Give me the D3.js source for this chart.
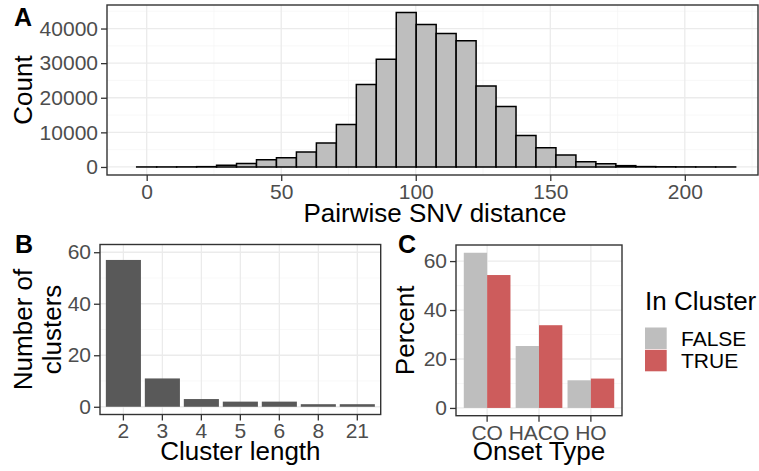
<!DOCTYPE html>
<html>
<head>
<meta charset="utf-8">
<script src="https://cdn.jsdelivr.net/npm/d3@7"></script>
<style>
  body { margin: 0; background: #fff; }
  svg { font-family: "Liberation Sans", Arial, sans-serif; }
  .ax-title { fill: #000; font-size: 26px; }
  .tag { fill: #000; font-size: 25px; font-weight: bold; }
</style>
</head>
<body>
<script>
// ---- data ----
// panel A: histogram, 30 bins centred on multiples of binWidth
var binWidth = 7.42;
var histCounts = [10, 15, 30, 90, 480, 980, 2100, 2700, 4300, 6900,
  12250, 23800, 31100, 44600, 41200, 38550, 36500, 23400, 17450, 9100,
  5550, 3450, 1520, 950, 380, 110, 50, 25, 12, 5];
var histTicks = [0, 50, 100, 150, 200];
var countTicks = [0, 10000, 20000, 30000, 40000];

// panel B
var clusterLength = ['2', '3', '4', '5', '6', '8', '21'];
var numClusters = [57, 11, 3, 2, 2, 1, 1];
var clusterTicks = [0, 20, 40, 60];

// panel C
var onsetType = ['CO', 'HACO', 'HO'];
var inCluster = ['FALSE', 'TRUE'];
var pctFalse = [63.4, 25.3, 11.3];
var pctTrue = [54.3, 33.8, 12.0];
var pctTicks = [0, 20, 40, 60];

var W = 759, H = 471;
var svg = d3.select('body').append('svg').attr('width', W).attr('height', H);
svg.append('rect').attr('width', W).attr('height', H).attr('fill', '#fff');

var gridMajor = '#ebebeb', gridMinor = '#f5f5f5', border = '#333333';

function panelGrid(x0, x1, y0, y1, vx, vxMinor, hy, hyMinor) {
  var g = svg.append('g');
  hyMinor.forEach(function(y) {
    g.append('line').attr('x1', x0).attr('x2', x1).attr('y1', y).attr('y2', y)
      .attr('stroke', gridMinor).attr('stroke-width', 0.7);
  });
  vxMinor.forEach(function(x) {
    g.append('line').attr('x1', x).attr('x2', x).attr('y1', y0).attr('y2', y1)
      .attr('stroke', gridMinor).attr('stroke-width', 0.7);
  });
  hy.forEach(function(y) {
    g.append('line').attr('x1', x0).attr('x2', x1).attr('y1', y).attr('y2', y)
      .attr('stroke', gridMajor).attr('stroke-width', 1.3);
  });
  vx.forEach(function(x) {
    g.append('line').attr('x1', x).attr('x2', x).attr('y1', y0).attr('y2', y1)
      .attr('stroke', gridMajor).attr('stroke-width', 1.3);
  });
}

function panelBorder(x0, x1, y0, y1) {
  svg.append('rect').attr('x', x0).attr('y', y0)
    .attr('width', x1 - x0).attr('height', y1 - y0)
    .attr('fill', 'none').attr('stroke', border).attr('stroke-width', 1.4);
}

function styleAxis(g) {
  g.select('.domain').remove();
  g.attr('font-family', null).attr('font-size', null);
  g.selectAll('.tick line').attr('stroke', border).attr('stroke-width', 1.3);
  g.selectAll('.tick text')
    .style('font-size', '21px')
    .style('font-family', '"Liberation Sans", Arial, sans-serif')
    .style('fill', '#4d4d4d');
}

// ================= Panel A =================
var A = { x0: 107, x1: 758, y0: 5, y1: 175 };
var xA = d3.scaleLinear().domain([-14.75, 227.2]).range([A.x0, A.x1]);
var yA = d3.scaleLinear().domain([-2320, 46800]).range([A.y1, A.y0]);

panelGrid(A.x0, A.x1, A.y0, A.y1,
  histTicks.map(xA), [25, 75, 125, 175, 225].map(xA),
  countTicks.map(yA), [5000, 15000, 25000, 35000, 45000].map(yA));

svg.append('g').selectAll('path').data(histCounts).enter().append('path')
  .attr('d', function(d, i) {
    var l = xA(i * binWidth - binWidth / 2), r = xA(i * binWidth + binWidth / 2);
    return 'M' + l + ',' + yA(0) + 'V' + yA(d) + 'H' + r + 'V' + yA(0) + 'Z';
  })
  .attr('fill', '#bebebe').attr('stroke', '#000').attr('stroke-width', 1.5);

panelBorder(A.x0, A.x1, A.y0, A.y1);

svg.append('g').attr('transform', 'translate(' + A.x0 + ',0)')
  .call(d3.axisLeft(yA).tickValues(countTicks).tickSize(6).tickPadding(3).tickFormat(d3.format('d')))
  .call(styleAxis);
svg.append('g').attr('transform', 'translate(0,' + A.y1 + ')')
  .call(d3.axisBottom(xA).tickValues(histTicks).tickSize(6).tickPadding(3))
  .call(styleAxis);

svg.append('text').attr('class', 'ax-title').attr('text-anchor', 'middle')
  .attr('x', 435).attr('y', 222).text('Pairwise SNV distance');
svg.append('text').attr('class', 'ax-title').attr('text-anchor', 'middle')
  .attr('transform', 'translate(32,' + (A.y0 + A.y1) / 2 + ')rotate(-90)').text('Count');
svg.append('text').attr('class', 'tag').attr('x', 14).attr('y', 26).text('A');

// ================= Panel B =================
var B = { x0: 100, x1: 380.7, y0: 244.5, y1: 414.5 };
var xB = d3.scaleBand().domain(clusterLength).range([B.x0, B.x1])
  .paddingInner(0.1).paddingOuter(0.15);
var yB = d3.scaleLinear().domain([-3, 63]).range([B.y1, B.y0]);

panelGrid(B.x0, B.x1, B.y0, B.y1,
  clusterLength.map(function(c) { return xB(c) + xB.bandwidth() / 2; }), [],
  clusterTicks.map(yB), [10, 30, 50].map(yB));

svg.append('g').selectAll('rect').data(numClusters).enter().append('rect')
  .attr('x', function(d, i) { return xB(clusterLength[i]); })
  .attr('width', xB.bandwidth())
  .attr('y', function(d) { return yB(d); })
  .attr('height', function(d) { return yB(0) - yB(d); })
  .attr('fill', '#595959');

panelBorder(B.x0, B.x1, B.y0, B.y1);

svg.append('g').attr('transform', 'translate(' + B.x0 + ',0)')
  .call(d3.axisLeft(yB).tickValues(clusterTicks).tickSize(6).tickPadding(3))
  .call(styleAxis);
svg.append('g').attr('transform', 'translate(0,' + B.y1 + ')')
  .call(d3.axisBottom(xB).tickSize(6).tickPadding(3))
  .call(styleAxis);

svg.append('text').attr('class', 'ax-title').attr('text-anchor', 'middle')
  .attr('x', (B.x0 + B.x1) / 2).attr('y', 460).text('Cluster length');
var tB = svg.append('text').attr('class', 'ax-title').attr('text-anchor', 'middle')
  .attr('transform', 'translate(0,' + (B.y0 + B.y1) / 2 + ')rotate(-90)');
tB.append('tspan').attr('x', 0).attr('y', 32).text('Number of');
tB.append('tspan').attr('x', 0).attr('y', 61).text('clusters');
svg.append('text').attr('class', 'tag').attr('x', 15).attr('y', 253).text('B');

// ================= Panel C =================
var C = { x0: 456, x1: 622, y0: 245, y1: 415.7 };
var xC = d3.scaleBand().domain(onsetType).range([C.x0, C.x1])
  .paddingInner(0.1).paddingOuter(0.15);
var xC2 = d3.scaleBand().domain(inCluster).range([0, xC.bandwidth()]);
var yC = d3.scaleLinear().domain([-3.17, 66.57]).range([C.y1, C.y0]);
var fillC = d3.scaleOrdinal().domain(inCluster).range(['#bebebe', '#cd5c5c']);

panelGrid(C.x0, C.x1, C.y0, C.y1,
  onsetType.map(function(c) { return xC(c) + xC.bandwidth() / 2; }), [],
  pctTicks.map(yC), [10, 30, 50].map(yC));

var rowsC = [];
onsetType.forEach(function(t, i) {
  rowsC.push({ type: t, grp: 'FALSE', v: pctFalse[i] });
  rowsC.push({ type: t, grp: 'TRUE', v: pctTrue[i] });
});
svg.append('g').selectAll('rect').data(rowsC).enter().append('rect')
  .attr('x', function(d) { return xC(d.type) + xC2(d.grp); })
  .attr('width', xC2.bandwidth())
  .attr('y', function(d) { return yC(d.v); })
  .attr('height', function(d) { return yC(0) - yC(d.v); })
  .attr('fill', function(d) { return fillC(d.grp); });

panelBorder(C.x0, C.x1, C.y0, C.y1);

svg.append('g').attr('transform', 'translate(' + C.x0 + ',0)')
  .call(d3.axisLeft(yC).tickValues(pctTicks).tickSize(6).tickPadding(3))
  .call(styleAxis);
svg.append('g').attr('transform', 'translate(0,' + C.y1 + ')')
  .call(d3.axisBottom(xC).tickSize(6).tickPadding(3))
  .call(styleAxis);

svg.append('text').attr('class', 'ax-title').attr('text-anchor', 'middle')
  .attr('x', (C.x0 + C.x1) / 2).attr('y', 460).text('Onset Type');
svg.append('text').attr('class', 'ax-title').attr('text-anchor', 'middle')
  .attr('transform', 'translate(414,' + (C.y0 + C.y1) / 2 + ')rotate(-90)').text('Percent');
svg.append('text').attr('class', 'tag').attr('x', 398).attr('y', 253).text('C');

// legend
var leg = svg.append('g').attr('transform', 'translate(645,0)');
leg.append('text').attr('class', 'ax-title').attr('x', 0).attr('y', 310).text('In Cluster');
inCluster.forEach(function(k, i) {
  leg.append('rect').attr('x', 0).attr('y', 327.5 + i * 22.3)
    .attr('width', 21.7).attr('height', 21.5).attr('fill', fillC(k));
  leg.append('text').attr('x', 36).attr('y', 346 + i * 22.3)
    .style('font-size', '21px').style('fill', '#000').text(k);
});
</script>
</body>
</html>
